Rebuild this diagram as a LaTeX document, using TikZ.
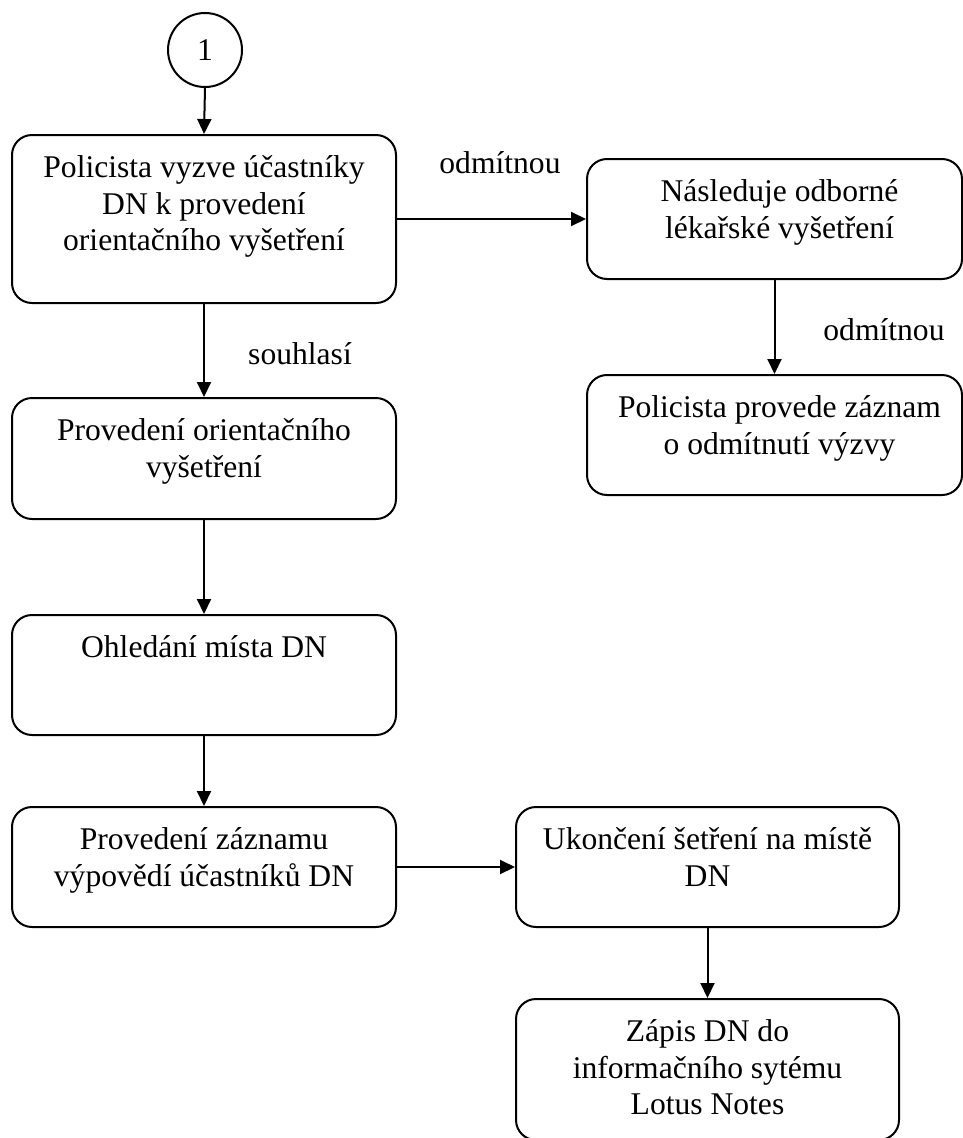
\documentclass[tikz,border=0pt]{standalone}
\usepackage{fontspec}
\setmainfont{Liberation Serif}
\usetikzlibrary{arrows.meta}
\begin{document}
\begin{tikzpicture}[x=1pt,y=-1pt,
  box/.style={draw, line width=2pt, rounded corners=20pt, fill=white, inner sep=0pt},
  txt/.style={align=center, inner sep=0pt, font=\fontsize{31.6}{36.5}\selectfont},
  lbl/.style={inner sep=0pt, anchor=base, font=\fontsize{31.6}{36.5}\selectfont},
  conn/.style={line width=2pt, -{Triangle[length=15pt,width=14pt]}}]
\fill[white] (0,0) rectangle (963,1138);
\useasboundingbox (0,0) rectangle (963,1138);
% nodes
\node[draw, line width=2pt, circle, minimum size=74pt, inner sep=0pt, fill=white,
      font=\fontsize{31.6}{36.5}\selectfont] (c1) at (205,50) {1};
\node[box, minimum width=384pt, minimum height=168pt] (b1) at (204,219) {};
\node[box, minimum width=375pt, minimum height=120pt] (b2) at (774.5,219) {};
\node[box, minimum width=375pt, minimum height=120pt] (b3) at (774.5,435) {};
\node[box, minimum width=384pt, minimum height=121pt] (b4) at (204,458.5) {};
\node[box, minimum width=384pt, minimum height=120pt] (b5) at (204,675) {};
\node[box, minimum width=384pt, minimum height=120pt] (b6) at (204,867) {};
\node[box, minimum width=383pt, minimum height=120pt] (b7) at (707.5,867) {};
\node[box, minimum width=383pt, minimum height=141pt] (b8) at (707.5,1069.5) {};
% texts
\node[txt, anchor=north] (t1) at ([yshift=-21.5pt]b1.north) {Policista vyzve účastníky\\DN k provedení\\orientačního vyšetření};
\node[txt, anchor=north] (t2) at ([xshift=5pt,yshift=-21.5pt]b2.north) {Následuje odborné\\lékařské vyšetření};
\node[txt, anchor=north] (t3) at ([xshift=5pt,yshift=-21.5pt]b3.north) {Policista provede záznam\\o odmítnutí výzvy};
\node[txt, anchor=north] (t4) at ([yshift=-21.5pt]b4.north) {Provedení orientačního\\vyšetření};
\node[txt, anchor=north] (t5) at ([yshift=-21.5pt]b5.north) {Ohledání místa DN};
\node[txt, anchor=north] (t6) at ([yshift=-21.5pt]b6.north) {Provedení záznamu\\výpovědí účastníků DN};
\node[txt, anchor=north] (t7) at ([yshift=-21.5pt]b7.north) {Ukončení šetření na místě\\DN};
\node[txt, anchor=north] (t8) at ([yshift=-21.5pt]b8.north) {Zápis DN do\\informačního sytému\\Lotus Notes};
% labels
\node[lbl] (l1) at (500,173) {odmítnou};
\node[lbl] (l2) at (300,364) {souhlasí};
\node[lbl] (l3) at (884,340) {odmítnou};
% connectors
\draw[conn] (c1.south) -- (b1.north);
\draw[conn] (b1.east) -- (b2.west);
\draw[conn] (b2.south) -- (b3.north);
\draw[conn] (b1.south) -- (b4.north);
\draw[conn] (b4.south) -- (b5.north);
\draw[conn] (b5.south) -- (b6.north);
\draw[conn] (b6.east) -- (b7.west);
\draw[conn] (b7.south) -- (b8.north);
\end{tikzpicture}
\end{document}
